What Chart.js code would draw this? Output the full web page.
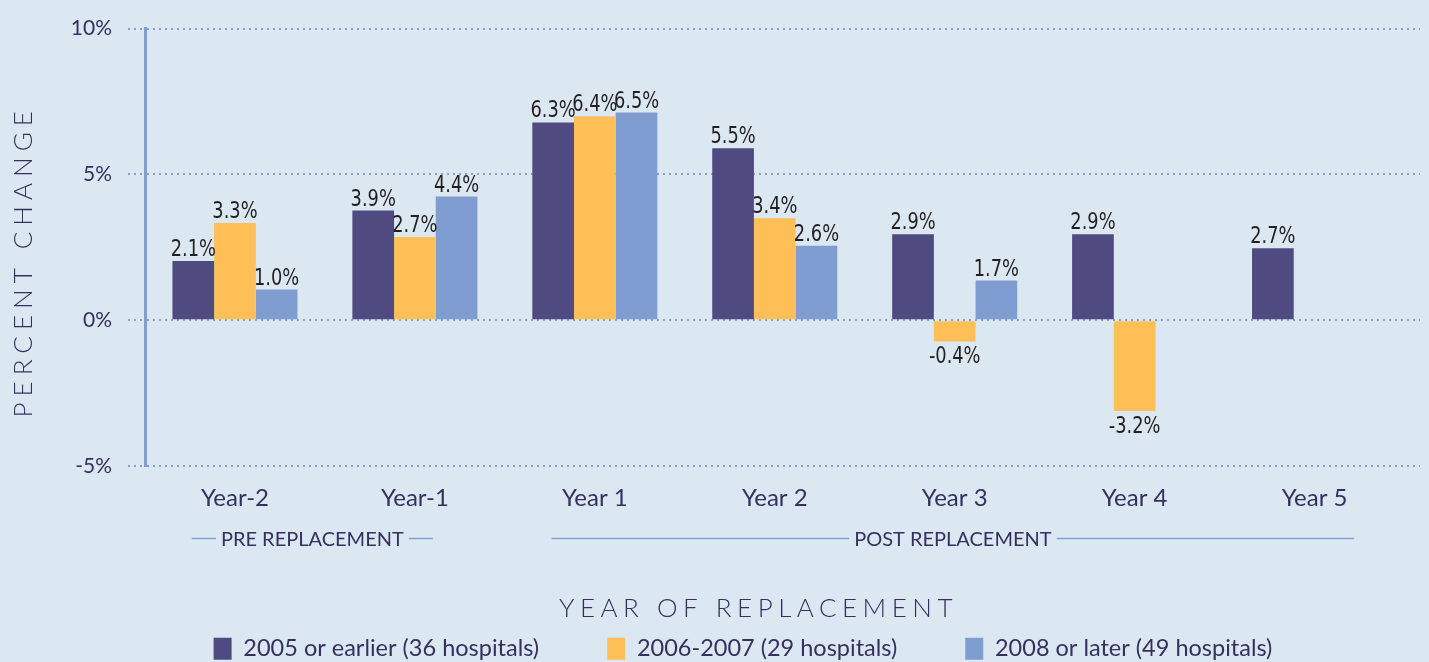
<!DOCTYPE html>
<html>
<head>
<meta charset="utf-8">
<script src="https://cdn.jsdelivr.net/npm/chart.js@4/dist/chart.umd.min.js"></script>
<style>
  html, body { margin: 0; padding: 0; background: #dbe8f1; }
  #wrap { width: 1429px; height: 662px; position: relative; }
</style>
</head>
<body>
<div id="wrap"><canvas id="c" width="1429" height="662"></canvas></div>
<script>
// ---------------- DATA ----------------
const categories = ['Year-2', 'Year-1', 'Year 1', 'Year 2', 'Year 3', 'Year 4', 'Year 5'];
const seriesNames = ['2005 or earlier (36 hospitals)', '2006-2007 (29 hospitals)', '2008 or later (49 hospitals)'];
// bar heights as drawn (percent)
const series2005 = [2.03, 3.76, 6.78, 5.90, 2.95, 2.95, 2.47];
const series2006 = [3.33, 2.85, 6.99, 3.50, -0.73, -3.11, null];
const series2008 = [1.05, 4.24, 7.12, 2.55, 1.36, null, null];
// printed value labels
const labels2005 = ['2.1%', '3.9%', '6.3%', '5.5%', '2.9%', '2.9%', '2.7%'];
const labels2006 = ['3.3%', '2.7%', '6.4%', '3.4%', '-0.4%', '-3.2%', null];
const labels2008 = ['1.0%', '4.4%', '6.5%', '2.6%', '1.7%', null, null];
const yTickValues = [-5, 0, 5, 10];
const periodNames = ['PRE REPLACEMENT', 'POST REPLACEMENT'];
const periodFirst = ['Year-2', 'Year 1'];
const periodLast = ['Year-1', 'Year 5'];
const xTitle = 'YEAR OF REPLACEMENT';
const yTitle = 'PERCENT CHANGE';

// ---------------- STYLE ----------------
const BG = '#dbe8f1';
const COLORS = ['#4f4b81', '#fdbf56', '#809dd2'];
const GRID = '#819fd3';
const TEXT = '#35305f';
const LABEL = '#231f20';
const LABEL_FONT = '23px "Liberation Sans Narrow", "DejaVu Sans Condensed", Lato, sans-serif';
const LABEL_SQUEEZE = 0.86;
const MAIN_FONT = 'Lato, "Open Sans", sans-serif';
// period line extents, in category units relative to first/last category
const periodInset = [[-0.24, 0.10], [-0.24, 0.22]];

const seriesValues = [series2005, series2006, series2008];
const seriesLabels = [labels2005, labels2006, labels2008];

const datasets = seriesValues.map((vals, di) => ({
  label: seriesNames[di],
  data: vals.map((v, i) => ({ x: i, y: v })),
  backgroundColor: COLORS[di],
  borderWidth: 0,
  categoryPercentage: 0.695,
  barPercentage: 1.0
}));

const extras = {
  id: 'extras',
  beforeDraw(chart) {
    const { ctx, width, height } = chart;
    ctx.save();
    ctx.fillStyle = BG;
    ctx.fillRect(0, 0, width, height);
    ctx.restore();
  },
  afterDatasetsDraw(chart) {
    const ctx = chart.ctx;
    chart.data.datasets.forEach((ds, di) => {
      const meta = chart.getDatasetMeta(di);
      meta.data.forEach((el, i) => {
        const v = ds.data[i].y;
        const t = seriesLabels[di][i];
        if (v === null || v === undefined || !t) return;
        const ty = v >= 0 ? el.y - 5 : el.y + 22;
        ctx.save();
        ctx.font = LABEL_FONT;
        ctx.fillStyle = LABEL;
        ctx.textAlign = 'center';
        ctx.textBaseline = 'alphabetic';
        ctx.translate(el.x, ty);
        ctx.scale(LABEL_SQUEEZE, 1);
        ctx.fillText(t, 0, 0);
        ctx.restore();
      });
    });
  },
  afterDraw(chart) {
    const ctx = chart.ctx;
    const xs = chart.scales.x;
    const area = chart.chartArea;
    ctx.save();
    // axis titles with letter spacing
    ctx.fillStyle = TEXT;
    ctx.font = '300 26px ' + MAIN_FONT;
    ctx.letterSpacing = '5.5px';
    ctx.textAlign = 'center';
    ctx.textBaseline = 'middle';
    ctx.fillText(xTitle, (area.left + area.right) / 2 - 24, 609);
    ctx.save();
    ctx.translate(24, (area.top + area.bottom) / 2 + 17);
    ctx.rotate(-Math.PI / 2);
    ctx.letterSpacing = '6px';
    ctx.fillText(yTitle, 3, 0);
    ctx.restore();
    ctx.letterSpacing = '0px';
    // period annotations
    ctx.font = '20px ' + MAIN_FONT;
    const ly = 538.5;
    periodNames.forEach((name, k) => {
      const i0 = categories.indexOf(periodFirst[k]);
      const i1 = categories.indexOf(periodLast[k]);
      const x0 = xs.getPixelForValue(i0 + periodInset[k][0]);
      const x1 = xs.getPixelForValue(i1 + periodInset[k][1]);
      const cx = (x0 + x1) / 2;
      const w = ctx.measureText(name).width;
      ctx.fillStyle = TEXT;
      ctx.fillText(name, cx, ly + 1);
      ctx.strokeStyle = GRID;
      ctx.lineWidth = 1.6;
      ctx.beginPath();
      ctx.moveTo(x0, ly); ctx.lineTo(cx - w / 2 - 5, ly);
      ctx.moveTo(cx + w / 2 + 5, ly); ctx.lineTo(x1, ly);
      ctx.stroke();
    });
    ctx.restore();
  }
};

new Chart(document.getElementById('c'), {
  type: 'bar',
  data: { datasets },
  plugins: [extras],
  options: {
    responsive: false,
    animation: false,
    layout: { padding: { left: 66, right: 9, top: 25, bottom: 0 } },
    plugins: {
      tooltip: { enabled: false },
      legend: {
        position: 'bottom',
        maxHeight: 93,
        labels: {
          boxWidth: 18,
          boxHeight: 22,
          padding: 68,
          color: TEXT,
          font: { family: MAIN_FONT, size: 23.5 }
        }
      }
    },
    scales: {
      x: {
        type: 'linear',
        min: -0.5,
        max: 6.586,
        offset: false,
        grid: { display: false, drawTicks: false },
        border: { display: false },
        afterBuildTicks(scale) { scale.ticks = categories.map((c, i) => ({ value: i })); },
        afterFit(scale) { scale.height = 103; },
        ticks: {
          autoSkip: false,
          maxRotation: 0,
          padding: 18,
          color: TEXT,
          font: { family: MAIN_FONT, size: 24 },
          callback: (v) => categories[v]
        }
      },
      y: {
        min: -5,
        max: 10,
        afterBuildTicks(scale) { scale.ticks = yTickValues.map(v => ({ value: v })); },
        afterFit(scale) { scale.width = 79; },
        grid: {
          color: GRID,
          lineWidth: 2,
          tickLength: 17,
          tickColor: GRID,
          tickWidth: 2,
          tickBorderDash: [2, 4]
        },
        border: { display: true, color: GRID, width: 3, dash: [2, 4] },
        ticks: {
          padding: 16,
          color: TEXT,
          font: { family: MAIN_FONT, size: 21 },
          callback: (v) => v + '%'
        }
      }
    }
  }
});
</script>
</body>
</html>
